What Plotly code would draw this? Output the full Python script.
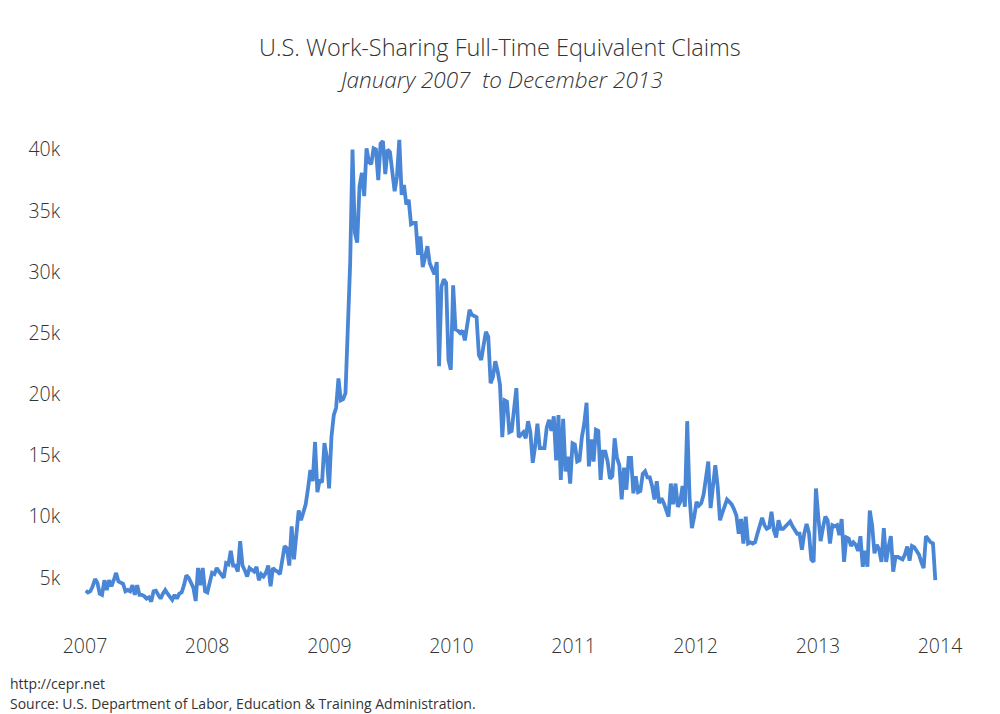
import pandas as pd
import plotly.graph_objects as go

# Weekly full-time equivalent work-sharing claims (thousands)
claims_2007 = [3.95, 3.8, 3.9, 4.3, 4.9, 4.6, 3.7, 3.6, 4.8, 4.0, 4.8, 4.3, 4.8, 5.4, 4.7, 4.6,
               4.5, 3.9, 4.0, 3.9, 4.4, 3.6, 4.4, 3.6, 3.6, 3.5, 3.3, 3.4, 3.05, 3.9, 3.95, 3.6,
               3.3, 3.7, 4.0, 3.7, 3.5, 3.2, 3.6, 3.3, 3.7, 3.8, 4.4, 5.2, 5.0, 4.5, 4.2, 3.1,
               5.8, 4.4, 5.8, 3.9]
claims_2008 = [3.8, 4.6, 5.4, 5.3, 5.8, 5.5, 5.2, 5.0, 6.2, 6.1, 7.2, 6.0, 6.0, 5.5, 8.0, 6.0,
               5.6, 5.1, 5.8, 5.6, 5.5, 5.9, 4.8, 5.3, 5.1, 5.4, 6.0, 4.3, 5.8, 5.6, 5.5, 5.3,
               6.3, 7.6, 7.4, 6.0, 9.2, 6.5, 8.5, 10.5, 9.7, 10.3, 11.0, 12.3, 13.8, 12.9, 16.1, 12.0,
               13.0, 12.8, 16.0, 14.9]
claims_2009 = [12.3, 16.5, 18.3, 18.9, 21.3, 19.5, 19.6, 20.1, 24.7, 30.7, 40.0, 33.2, 32.4, 37.0, 38.1, 36.2,
               40.1, 39.0, 38.8, 40.1, 40.0, 37.5, 40.5, 40.7, 38.0, 40.0, 39.8, 38.4, 36.6, 37.8, 40.8, 36.3,
               37.1, 35.5, 35.9, 33.9, 34.0, 34.0, 31.4, 32.9, 30.4, 31.2, 32.1, 30.7, 30.2, 29.8, 30.8, 22.3,
               28.8, 29.4, 29.1, 22.8]
claims_2010 = [22.0, 28.9, 25.3, 25.2, 25.0, 25.2, 24.4, 25.9, 26.9, 26.5, 26.4, 26.3, 23.2, 22.8, 24.0, 25.1,
               24.7, 20.9, 21.4, 22.7, 21.9, 20.8, 16.5, 19.5, 19.4, 16.9, 17.0, 19.0, 20.5, 16.5, 16.7, 16.9,
               16.4, 17.8, 16.9, 14.4, 15.7, 17.6, 15.6, 15.6, 15.6, 17.3, 17.9, 17.0, 18.2, 14.6, 18.3, 13.0,
               18.0, 13.7, 14.9, 12.7]
claims_2011 = [16.0, 15.9, 14.5, 14.6, 16.5, 17.6, 19.3, 14.1, 16.3, 14.5, 17.1, 17.0, 13.0, 15.3, 15.3, 14.5,
               13.1, 13.3, 16.4, 14.8, 14.2, 11.4, 14.0, 12.2, 14.8, 14.8, 11.9, 13.3, 12.0, 12.1, 13.5, 13.7,
               13.2, 13.2, 12.5, 11.4, 12.9, 11.1, 11.5, 11.1, 10.5, 10.0, 12.7, 11.0, 12.7, 10.8, 11.2, 12.5,
               10.8, 17.8, 11.6, 9.05]
claims_2012 = [10.0, 11.2, 10.9, 11.1, 11.8, 13.0, 14.5, 10.7, 12.5, 14.2, 12.5, 9.7, 10.3, 10.9, 11.4, 11.2,
               11.0, 10.6, 10.1, 8.6, 9.8, 7.8, 10.0, 7.8, 7.9, 7.8, 7.9, 8.6, 9.3, 9.9, 9.3, 9.0,
               9.1, 10.4, 8.9, 8.3, 9.7, 9.0, 9.0, 9.2, 9.4, 9.6, 9.2, 8.9, 8.6, 8.6, 7.3, 8.6,
               9.4, 8.7, 6.5, 6.3]
claims_2013 = [12.3, 10.0, 8.0, 9.1, 10.0, 9.7, 7.8, 9.3, 9.2, 9.3, 8.5, 9.8, 6.3, 8.3, 8.2, 7.6,
               7.9, 7.7, 7.2, 8.4, 5.9, 7.2, 5.9, 10.5, 9.3, 7.0, 7.7, 7.3, 6.3, 9.05, 6.3, 7.5,
               8.4, 5.5, 6.7, 6.7, 6.6, 6.5, 6.9, 7.55, 6.4, 7.6, 7.5, 7.2, 6.9, 6.3, 5.8, 8.4,
               8.1, 7.9, 7.8, 4.8]

claims_k = (claims_2007 + claims_2008 + claims_2009 + claims_2010 +
            claims_2011 + claims_2012 + claims_2013)
claims = [v * 1000 for v in claims_k]
weeks = pd.date_range(start="2007-01-03", periods=len(claims), freq="7D")

title_text = "U.S. Work-Sharing Full-Time Equivalent Claims"
subtitle_text = "January 2007&nbsp; to December 2013"
footer_lines = ["http://cepr.net",
                "Source: U.S. Department of Labor, Education &amp; Training Administration."]

# figure geometry (page has an 8px body margin)
W, H = 992, 706
ML, MR, MT, MB = 77, 60, 122, 89
PW, PH = W - ML - MR, H - MT - MB

def px_x(x):
    return (x - ML) / PW

def px_y(y):
    return (H - MB - y) / PH

TXT = "#333333"
main_font = "'Open Sans', Lato, sans-serif"

fig = go.Figure()
fig.add_trace(go.Scatter(
    x=weeks, y=claims, mode="lines",
    line=dict(color="#4a86d6", width=3.8),
    hoverinfo="x+y", showlegend=False,
))

fig.update_layout(
    width=W, height=H,
    paper_bgcolor="white", plot_bgcolor="white",
    margin=dict(l=ML, r=MR, t=MT, b=MB),
    font=dict(family=main_font, color=TXT),
    xaxis=dict(
        range=["2007-01-01", "2014-01-01"],
        tickformat="%Y", dtick="M12", tick0="2007-01-01",
        showgrid=False, zeroline=False, showline=False,
        ticks="outside", ticklen=4, tickcolor="rgba(0,0,0,0)",
        tickfont=dict(size=19.5, color=TXT, weight=300),
    ),
    yaxis=dict(
        range=[1140, 41600],
        dtick=5000, tick0=0, tickformat="~s",
        showgrid=False, zeroline=False, showline=False,
        ticks="outside", ticklen=20, tickcolor="rgba(0,0,0,0)",
        tickfont=dict(size=19.5, color=TXT, weight=300),
    ),
    annotations=[
        dict(text=title_text, x=0.5, y=px_y(39), xref="paper", yref="paper",
             xanchor="center", yanchor="middle", showarrow=False,
             font=dict(size=23.5, color=TXT, weight=300)),
        dict(text="<i>" + subtitle_text + "</i>", x=0.5, y=px_y(71), xref="paper", yref="paper",
             xanchor="center", yanchor="middle", showarrow=False,
             font=dict(size=22.5, color=TXT, weight=300)),
        dict(text=footer_lines[0], x=px_x(0), y=px_y(675), xref="paper", yref="paper",
             xanchor="left", yanchor="middle", showarrow=False,
             font=dict(family="'Open Sans', sans-serif", size=14, color=TXT)),
        dict(text=footer_lines[1], x=px_x(0), y=px_y(695), xref="paper", yref="paper",
             xanchor="left", yanchor="middle", showarrow=False,
             font=dict(family="'Open Sans', sans-serif", size=14, color=TXT)),
    ],
)

# center title/subtitle on the page (reference centre ~ x=500 in screenshot)
for a in fig.layout.annotations[:2]:
    a.update(x=px_x(500 - 8))

fig.write_html("out.html")
